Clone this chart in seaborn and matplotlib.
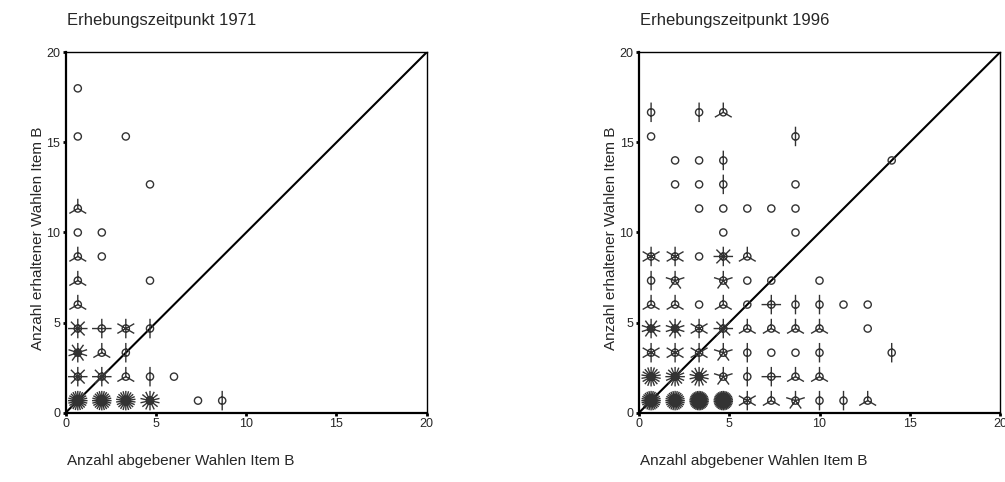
import numpy as np
import pandas as pd
import matplotlib
matplotlib.use("Agg")
import matplotlib.pyplot as plt
from matplotlib.path import Path
from matplotlib.markers import MarkerStyle
import seaborn as sns

sns.set_theme(style="white")
plt.rcParams["font.family"] = ["Liberation Sans", "DejaVu Sans"]

# ---- data: sunflower cells (x centre, y centre, number of cases) ----
x_1971 = [0.67, 0.67, 0.67, 0.67, 0.67, 0.67, 0.67, 0.67, 0.67, 0.67, 0.67,
          2.0, 2.0, 2.0, 2.0, 2.0, 2.0,
          3.33, 3.33, 3.33, 3.33, 3.33,
          4.67, 4.67, 4.67, 4.67, 4.67,
          6.0, 7.33, 8.67]
y_1971 = [0.67, 2.0, 3.33, 4.67, 6.0, 7.33, 8.67, 10.0, 11.33, 15.33, 18.0,
          0.67, 2.0, 3.33, 4.67, 8.67, 10.0,
          0.67, 2.0, 3.33, 4.67, 15.33,
          0.67, 2.0, 4.67, 7.33, 12.67,
          2.0, 0.67, 0.67]
n_1971 = [24, 8, 10, 8, 3, 3, 3, 1, 3, 1, 1,
          24, 8, 3, 4, 1, 1,
          22, 3, 2, 6, 1,
          14, 2, 2, 1, 1,
          1, 1, 2]

x_1996 = [0.67] * 9 + [2.0] * 9 + [3.33] * 10 + [4.67] * 12 + [6.0] * 8 + \
         [7.33] * 7 + [8.67] * 9 + [10.0] * 6 + [11.33] * 2 + [12.67] * 3 + [14.0] * 2
y_1996 = [0.67, 2.0, 3.33, 4.67, 6.0, 7.33, 8.67, 15.33, 16.67,
          0.67, 2.0, 3.33, 4.67, 6.0, 7.33, 8.67, 12.67, 14.0,
          0.67, 2.0, 3.33, 4.67, 6.0, 8.67, 11.33, 12.67, 14.0, 16.67,
          0.67, 2.0, 3.33, 4.67, 6.0, 7.33, 8.67, 10.0, 11.33, 12.67, 14.0, 16.67,
          0.67, 2.0, 3.33, 4.67, 6.0, 7.33, 8.67, 11.33,
          0.67, 2.0, 3.33, 4.67, 6.0, 7.33, 11.33,
          0.67, 2.0, 3.33, 4.67, 6.0, 10.0, 11.33, 12.67, 15.33,
          0.67, 2.0, 3.33, 4.67, 6.0, 7.33,
          0.67, 6.0,
          0.67, 4.67, 6.0,
          3.33, 14.0]
n_1996 = [28, 18, 6, 10, 3, 2, 6, 1, 2,
          28, 16, 6, 10, 3, 5, 6, 1, 1,
          34, 14, 6, 6, 1, 1, 1, 1, 1, 2,
          34, 5, 5, 8, 3, 5, 8, 1, 1, 2, 2, 3,
          6, 2, 2, 3, 1, 1, 3, 1,
          3, 4, 1, 3, 4, 1, 1,
          5, 3, 1, 3, 2, 1, 1, 1, 2,
          2, 3, 2, 3, 2, 1,
          2, 1,
          3, 1, 1,
          2, 1]

titles = ["Erhebungszeitpunkt 1971", "Erhebungszeitpunkt 1996"]
xlabel = "Anzahl abgebener Wahlen Item B"
ylabel = "Anzahl erhaltener Wahlen Item B"
ticks = [0, 5, 10, 15, 20]

COLOR = "#333333"
DIAM_PX = 19.5          # full petal span in pixels
CIRCLE_FRAC = 0.37      # circle radius relative to petal length


def sunflower_marker(n):
    circle = Path.circle((0, 0), CIRCLE_FRAC)
    if n <= 1:
        verts = list(circle.vertices) + [(1.0, 0.0)]
        codes = list(circle.codes) + [Path.MOVETO]
        return MarkerStyle(Path(verts, codes))
    verts, codes = [], []
    for k in range(n):
        a = np.pi / 2 + 2 * np.pi * k / n
        verts += [(0.0, 0.0), (np.cos(a), np.sin(a))]
        codes += [Path.MOVETO, Path.LINETO]
    petals = Path(verts, codes)
    return MarkerStyle(Path.make_compound_path(circle, petals))


fig = plt.figure(figsize=(10.05, 4.82), dpi=100)
W, H = 1005, 482
ax_left_px = [65.7, 639.0]
ax_w_px = 361.0
ax_top_px, ax_bot_px = 52.3, 412.7
size_pt = DIAM_PX * 72 / 100

datasets = [(x_1971, y_1971, n_1971), (x_1996, y_1996, n_1996)]
for idx, (xs, ys, ns) in enumerate(datasets):
    ax = fig.add_axes([ax_left_px[idx] / W, 1 - ax_bot_px / H,
                       ax_w_px / W, (ax_bot_px - ax_top_px) / H])
    df = pd.DataFrame({"x": xs, "y": ys, "n": ns})
    sns.lineplot(x=[0, 20], y=[0, 20], ax=ax, color="black", linewidth=1.5)
    for n_val, sub in df.groupby("n"):
        sns.scatterplot(data=sub, x="x", y="y", ax=ax,
                        marker=sunflower_marker(int(n_val)), s=size_pt ** 2,
                        facecolor="none", edgecolor=COLOR,
                        linewidth=1.0, legend=False, zorder=3)
    ax.set_xlim(0, 20)
    ax.set_ylim(0, 20)
    ax.set_xticks(ticks)
    ax.set_yticks(ticks)
    ax.set_xlabel("")
    ax.set_ylabel("")
    ax.tick_params(axis="both", which="major", direction="out", length=2.5,
                   width=2, color="black", labelsize=9, pad=1.5,
                   bottom=True, left=True)
    for side in ["left", "bottom"]:
        ax.spines[side].set_linewidth(1.6)
        ax.spines[side].set_color("black")
    for side in ["top", "right"]:
        ax.spines[side].set_linewidth(1.0)
        ax.spines[side].set_color("black")
    x0 = (ax_left_px[idx] + 1) / W
    fig.text(x0, 1 - 20 / H, titles[idx], ha="left", va="center", fontsize=12)
    fig.text(x0, 1 - 461 / H, xlabel, ha="left", va="center", fontsize=11)
    fig.text((ax_left_px[idx] - 28) / W, 1 - 238 / H, ylabel, ha="center",
             va="center", rotation=90, fontsize=11)

fig.savefig("out.png", dpi=100)
